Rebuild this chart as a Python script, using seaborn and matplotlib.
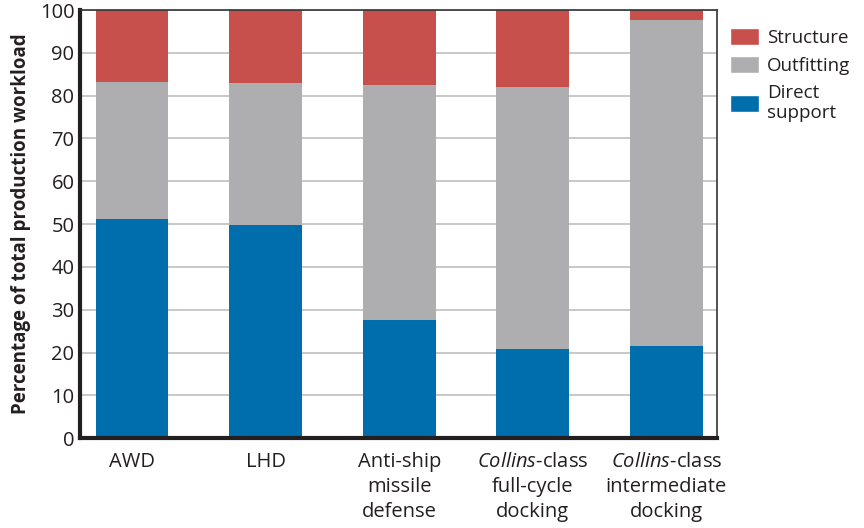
import pandas as pd
import seaborn as sns
import matplotlib.pyplot as plt
from matplotlib.patches import Patch

# values (percent of total production workload)
programs = ['AWD', 'LHD', 'Anti-ship\nmissile\ndefense',
            '$\\mathit{Collins}$-class\nfull-cycle\ndocking',
            '$\\mathit{Collins}$-class\nintermediate\ndocking']
direct_support = [51.3, 49.9, 27.6, 20.8, 21.5]
outfitting = [31.9, 33.1, 54.9, 61.2, 76.2]
structure = [16.8, 17.0, 17.5, 18.0, 2.3]

colors = {'Structure': '#C8504C', 'Outfitting': '#AEAEB0', 'Direct\nsupport': '#006EAD'}

df = pd.DataFrame({'program': programs, 'direct': direct_support,
                   'outfitting': outfitting, 'structure': structure})
df['lvl2'] = df['direct'] + df['outfitting']
df['lvl3'] = df['lvl2'] + df['structure']

sns.set_style('white')
plt.rcParams['font.family'] = ['Open Sans', 'DejaVu Sans']
plt.rcParams['mathtext.fontset'] = 'custom'
plt.rcParams['mathtext.it'] = 'Open Sans:italic'
plt.rcParams['mathtext.rm'] = 'Open Sans'

fig = plt.figure(figsize=(8.64, 5.28), dpi=100)
ax = fig.add_axes([0.0926, 0.17, 0.7374, 0.811])

# stacked bars: draw cumulative totals, tallest first
for col, key in [('lvl3', 'Structure'), ('lvl2', 'Outfitting'), ('direct', 'Direct\nsupport')]:
    sns.barplot(data=df, x='program', y=col, color=colors[key], width=0.545,
                saturation=1, ax=ax, zorder=2, linewidth=0, edgecolor='none')

ax.set_ylim(0, 100)
ax.set_xlim(-0.39, 4.38)
ax.set_yticks(range(0, 101, 10))
ax.yaxis.grid(True, color='#C4C4C4', linewidth=1.3, zorder=0)
ax.set_axisbelow(True)
ax.tick_params(axis='both', length=0, labelsize=14.5, colors='#231F20')
ax.tick_params(axis='y', pad=4)
ax.tick_params(axis='x', pad=10)
for lbl in ax.get_xticklabels():
    lbl.set_linespacing(1.33)
ax.set_xlabel('')
ax.set_ylabel('Percentage of total production workload', fontsize=13.5,
              fontweight='bold', color='#231F20', labelpad=6)

for side in ['left', 'bottom']:
    ax.spines[side].set_linewidth(3)
    ax.spines[side].set_color('#231F20')
for side in ['top', 'right']:
    ax.spines[side].set_linewidth(1.2)
    ax.spines[side].set_color('#333333')

handles = [Patch(facecolor=c, label=k) for k, c in colors.items()]
leg = fig.legend(handles=handles, loc='upper left', bbox_to_anchor=(0.845, 0.947),
                 frameon=False, fontsize=13.5, handlelength=1.55, handleheight=1.0,
                 handletextpad=0.4, labelspacing=0.5, borderaxespad=0, borderpad=0,
                 labelcolor='#231F20')
for t in leg.get_texts():
    t.set_linespacing(1.1)

fig.savefig('out.png', dpi=100)
